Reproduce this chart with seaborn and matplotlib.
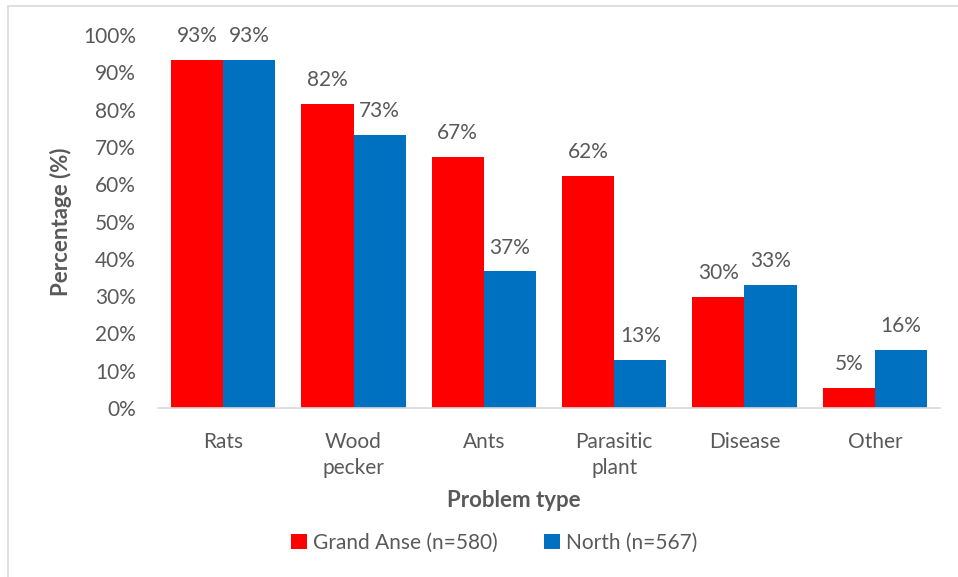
import matplotlib
matplotlib.use("Agg")
import matplotlib.pyplot as plt
import pandas as pd
import seaborn as sns
from matplotlib.patches import Rectangle
from matplotlib.ticker import FuncFormatter

# ------------------------------------------------------------------
# DATOS
# ------------------------------------------------------------------
categories  = ["Rats", "Wood\npecker", "Ants", "Parasitic\nplant", "Disease", "Other"]
grand_anse  = [93.3, 81.6, 67.3, 62.3, 29.8, 5.4]
north       = [93.2, 73.2, 36.6, 13.0, 33.0, 15.6]
series      = ["Grand Anse (n=580)", "North (n=567)"]
colors      = ["#FF0000", "#0070C0"]
yticks      = list(range(0, 101, 10))

df = pd.DataFrame({
    "problem": categories * 2,
    "pct": grand_anse + north,
    "region": [series[0]] * len(categories) + [series[1]] * len(categories),
})

text_col = "#595959"
fs = 15

sns.set_theme(style="white")
plt.rcParams["font.family"] = ["Lato", "DejaVu Sans"]

fig = plt.figure(figsize=(9.58, 5.77), dpi=100)
ax = fig.add_axes([158/958, 1 - 408/577, 782/958, 373/577])

sns.barplot(data=df, x="problem", y="pct", hue="region", palette=colors,
            width=0.8, gap=0, saturation=1, linewidth=0, ax=ax, legend=True)

ax.set_ylim(0, 100)
ax.set_xlim(-0.5, len(categories) - 0.5)
ax.set_yticks(yticks)
ax.yaxis.set_major_formatter(FuncFormatter(lambda v, _: f"{v:.0f}%"))
ax.tick_params(axis="both", length=0, labelsize=fs, labelcolor=text_col)
ax.tick_params(axis="y", pad=16)
ax.tick_params(axis="x", pad=17)
for t in ax.get_xticklabels():
    t.set_linespacing(1.4)

for s in ["left", "right", "top"]:
    ax.spines[s].set_visible(False)
ax.spines["bottom"].set_color("#D9D9D9")
ax.spines["bottom"].set_linewidth(1.2)

# etiquetas de valor encima de cada barra
for cont in ax.containers:
    ax.bar_label(cont, fmt="%.0f%%", padding=10, fontsize=fs, color=text_col)

ax.set_ylabel("Percentage (%)", fontsize=16, fontweight="bold", color=text_col)
ax.yaxis.set_label_coords(-0.11, 0.5)
ax.set_xlabel("Problem type", fontsize=16, fontweight="bold", color=text_col)
ax.xaxis.set_label_coords(0.455, -0.22)

handles, labels = ax.get_legend_handles_labels()
ax.get_legend().remove()
fig.legend(handles, labels, loc="center", bbox_to_anchor=(0.516, 1 - 543/577),
           ncol=2, frameon=False, fontsize=fs, labelcolor=text_col,
           handlelength=0.75, handleheight=0.75, handletextpad=0.3,
           columnspacing=2.2)

# borde gris del área del gráfico
fig.patches.append(Rectangle((8/958, -0.05), 1.2, 1 - 6/577 + 0.05,
                             transform=fig.transFigure, fill=False,
                             edgecolor="#D9D9D9", linewidth=1.2))

fig.savefig("out.png", dpi=100)
